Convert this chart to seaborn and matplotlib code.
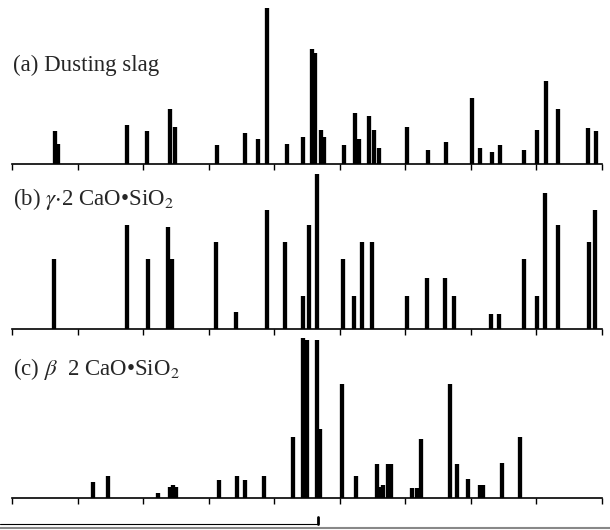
import numpy as np
import matplotlib
matplotlib.use("Agg")
import matplotlib.pyplot as plt
from matplotlib.lines import Line2D
import seaborn as sns

# === DATA (2-theta in deg, relative intensity, strongest line = 100) ===
slag_pos = [13.3, 13.5, 18.8, 20.3, 22.05, 22.4, 25.6, 27.8, 28.8, 29.45,
            31.0, 32.2, 32.9, 33.1, 33.55, 33.8, 35.3, 36.15, 36.45, 37.2,
            37.6, 38.0, 40.1, 41.7, 43.1, 45.1, 45.7, 46.6, 47.2, 49.05,
            50.05, 50.7, 51.65, 53.9, 54.55]
slag_int = [21, 13, 25, 21, 35, 24, 12, 20, 16, 100,
            13, 17, 74, 71, 22, 17, 12, 33, 16, 31,
            22, 10, 24, 9, 14, 42, 10, 8, 12, 9,
            22, 53, 35, 23, 21]

gamma_pos = [13.2, 18.8, 20.4, 21.9, 22.2, 25.55, 27.1, 29.45, 30.8, 32.2,
             32.65, 33.25, 35.25, 36.1, 36.7, 37.45, 40.1, 41.65, 43.0, 43.7,
             46.55, 47.15, 49.05, 50.05, 50.65, 51.65, 54.0, 54.45]
gamma_int = [45, 67, 45, 66, 45, 56, 11, 77, 56, 21,
             67, 100, 45, 21, 56, 56, 21, 33, 33, 21,
             10, 10, 45, 21, 88, 67, 56, 77]

beta_pos = [16.2, 17.3, 21.15, 22.05, 22.3, 22.5, 25.8, 27.15, 27.8, 29.2,
            31.45, 32.2, 32.5, 33.25, 33.5, 35.15, 36.25, 37.85, 38.15, 38.3,
            38.7, 38.9, 40.5, 40.9, 41.2, 43.4, 43.95, 44.8, 45.7, 45.95,
            47.4, 48.75]
beta_int = [10, 14, 3, 7, 8, 7, 11, 14, 11, 14,
            38, 100, 99, 99, 43, 71, 14, 21, 7, 8,
            21, 21, 6, 6, 37, 71, 21, 12, 8, 8,
            22, 38]

labels = ["(a) Dusting slag",
          r"(b) $\gamma$$\cdot$2 CaO•SiO$_2$",
          r"(c) $\beta$  2 CaO•SiO$_2$"]

panels = [(slag_pos, slag_int), (gamma_pos, gamma_int), (beta_pos, beta_int)]

# === STYLE ===
sns.set_style("white")
plt.rcParams["font.family"] = ["Liberation Serif", "DejaVu Serif"]
plt.rcParams["mathtext.fontset"] = "stix"

fig = plt.figure(figsize=(6.1, 5.3), dpi=100)

bottoms = [0.6906, 0.3792, 0.0604]
ytops = [102.6, 103.2, 100.0]
text_y = [0.866, 0.613, 0.292]

for (pos, inten), bot, ytop, lab, ty in zip(panels, bottoms, ytops, labels, text_y):
    ax = fig.add_axes([12 / 610, bot, 590 / 610, 160 / 530])
    ax.vlines(pos, 0, inten, color="black", linewidth=3.1, clip_on=False)
    ax.set_xlim(10, 55)
    ax.set_ylim(0, ytop)
    ax.set_xticks(np.arange(10, 56, 5))
    ax.set_yticks([])
    ax.tick_params(axis="x", bottom=True, direction="out", length=4, width=1.0,
                   color="black", labelbottom=False)
    sns.despine(ax=ax, left=True, top=True, right=True)
    ax.spines["bottom"].set_linewidth(1.2)
    ax.spines["bottom"].set_color("black")
    ax.patch.set_alpha(0)
    fig.text(13 / 610, ty, lab, fontsize=16.5, va="baseline", ha="left")

# scan edge at the bottom
fig.add_artist(Line2D([0, 318 / 610], [6 / 530, 6 / 530], color="black", lw=0.8))
fig.add_artist(Line2D([318 / 610, 318 / 610], [6 / 530, 13 / 530], color="black", lw=2))
fig.add_artist(Line2D([0, 1], [1.8 / 530, 1.8 / 530], color="#888888", lw=1.5))

fig.savefig("out.png", dpi=100)
